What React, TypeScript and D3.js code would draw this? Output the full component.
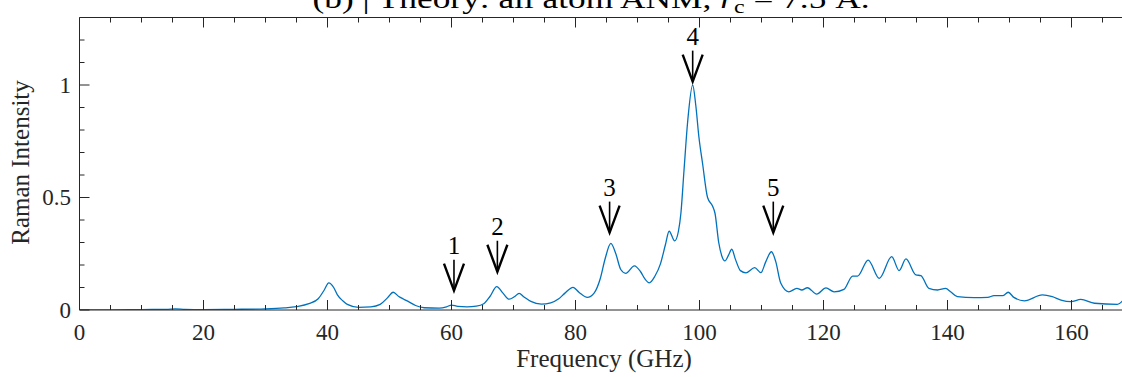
import React from "react";
import * as d3 from "d3";

const freq = [0, 5, 10, 14, 15.5, 17, 20, 25, 30, 33, 35, 37, 38.5, 39.5, 40.2, 41, 41.6, 42.5, 43.2, 45, 47, 48.5, 49.7, 50.6, 51.5, 52.3, 53.2, 54.2, 55.6, 58, 59.2, 60, 61, 62.5, 64, 65.2, 66.2, 67.3, 68.3, 69.3, 70.2, 70.9, 71.7, 72.8, 74.5, 76, 77.3, 78.3, 79.6, 80.6, 81.9, 83, 84, 84.8, 85.7, 86.5, 87.3, 88.1, 89.5, 90.5, 91.2, 91.9, 92.8, 93.7, 94.5, 95.1, 96.0, 96.6, 97.0, 97.5, 98.1, 98.9, 99.4, 99.9, 100.5, 101.3, 102.1, 102.5, 103.1, 103.6, 104.1, 104.7, 105.2, 105.8, 106.6, 107.5, 108.9, 109.9, 110.7, 111.6, 112.3, 113.1, 114.4, 115.7, 116.5, 117.4, 118.9, 120.4, 121.7, 123.3, 124.7, 125.5, 127.2, 129.0, 131.0, 132.2, 133.3, 134.9, 135.7, 137.0, 138.4, 139.7, 140.5, 141.6, 144.3, 146.5, 147.5, 148.9, 149.8, 150.7, 152.4, 155.3, 156.9, 158.3, 159.9, 161.5, 163.7, 167.4, 168.4];
const intensity = [0.001, 0.001, 0.002, 0.003, 0.005, 0.003, 0.002, 0.003, 0.005, 0.009, 0.015, 0.028, 0.05, 0.09, 0.121, 0.1, 0.067, 0.04, 0.025, 0.012, 0.014, 0.025, 0.055, 0.079, 0.06, 0.048, 0.035, 0.02, 0.01, 0.008, 0.014, 0.022, 0.016, 0.014, 0.017, 0.028, 0.06, 0.104, 0.075, 0.048, 0.06, 0.074, 0.058, 0.038, 0.026, 0.032, 0.05, 0.075, 0.101, 0.078, 0.056, 0.075, 0.14, 0.23, 0.296, 0.25, 0.18, 0.163, 0.196, 0.17, 0.138, 0.121, 0.15, 0.205, 0.29, 0.35, 0.307, 0.35, 0.43, 0.62, 0.84, 1.0, 0.91, 0.77, 0.65, 0.5, 0.462, 0.43, 0.3, 0.24, 0.218, 0.245, 0.27, 0.225, 0.175, 0.165, 0.188, 0.166, 0.215, 0.259, 0.215, 0.12, 0.081, 0.096, 0.089, 0.099, 0.071, 0.098, 0.081, 0.092, 0.151, 0.151, 0.222, 0.141, 0.237, 0.175, 0.227, 0.156, 0.153, 0.096, 0.089, 0.096, 0.081, 0.059, 0.055, 0.056, 0.064, 0.064, 0.079, 0.056, 0.041, 0.067, 0.059, 0.044, 0.037, 0.047, 0.03, 0.025, 0.046];

const arrowLabels = ["1", "2", "3", "4", "5"];
const arrowFreq = [60.4, 67.4, 85.5, 98.9, 111.9];
const arrowTip = [0.086, 0.17, 0.344, 1.015, 0.344];

const xTicksMajor = [0, 20, 40, 60, 80, 100, 120, 140, 160];
const yTicksMajor = [0, 0.5, 1];
const yTickLabels = ["0", "0.5", "1"];

const W = 1122;
const H = 377;
const left = 79.5;
const top = 17.5;
const bottom = 310;

const font = "'Liberation Serif', 'Times New Roman', serif";
const axisColor = "#262626";

export default function App() {
  const x = d3.scaleLinear().domain([0, 170]).range([left, left + 170 * 6.2]);
  const y = d3.scaleLinear().domain([0, 1.3]).range([bottom, top]);
  const right = x(170);
  const xMinor = d3.range(0, 171, 5).filter((v) => v % 20 !== 0);
  const yMinor = d3.range(0, 13).map((v) => v / 10).filter((v) => Math.abs(v * 2 - Math.round(v * 2)) > 1e-6);

  const pts: [number, number][] = freq.map((f, i) => [f, intensity[i]]);
  const line = d3
    .line<[number, number]>()
    .x((d) => x(d[0]))
    .y((d) => y(d[1]))
    .curve(d3.curveMonotoneX);

  return (
    <svg width={W} height={H} style={{ position: "absolute", left: 0, top: 0, background: "#fff" }}>
      <defs>
        <clipPath id="plotclip">
          <rect x={left} y={top - 2} width={right - left} height={bottom - top + 2} />
        </clipPath>
      </defs>
      {/* title (clipped at top) */}
      <text
        x={591}
        y={7.5}
        textAnchor="middle"
        fontFamily={font}
        fontSize={28}
        fill="#000"
        textLength={557}
        lengthAdjust="spacingAndGlyphs"
      >
        (b) | Theory: all atom ANM, <tspan fontStyle="italic">r</tspan>
        <tspan fontSize={19} dy={5}>c</tspan>
        <tspan dy={-5}> = 7.5 Å.</tspan>
      </text>

      {/* curve */}
      <path d={line(pts) || ""} fill="none" stroke="#0072BD" strokeWidth={1.3} clipPath="url(#plotclip)" />

      {/* box */}
      <g stroke={axisColor} strokeWidth={1} fill="none">
        <line x1={left} x2={right} y1={bottom} y2={bottom} />
        <line x1={left} x2={right} y1={top} y2={top} />
        <line x1={left} x2={left} y1={top} y2={bottom} />
        <line x1={right} x2={right} y1={top} y2={bottom} />
        {xTicksMajor.map((t) => (
          <g key={"xM" + t}>
            <line x1={x(t)} x2={x(t)} y1={bottom} y2={bottom - 10} />
            <line x1={x(t)} x2={x(t)} y1={top} y2={top + 10} />
          </g>
        ))}
        {xMinor.map((t) => (
          <g key={"xm" + t}>
            <line x1={x(t)} x2={x(t)} y1={bottom} y2={bottom - 5} />
            <line x1={x(t)} x2={x(t)} y1={top} y2={top + 5} />
          </g>
        ))}
        {yTicksMajor.map((t) => (
          <g key={"yM" + t}>
            <line x1={left} x2={left + 10} y1={y(t)} y2={y(t)} />
            <line x1={right} x2={right - 10} y1={y(t)} y2={y(t)} />
          </g>
        ))}
        {yMinor.map((t) => (
          <g key={"ym" + t}>
            <line x1={left} x2={left + 5} y1={y(t)} y2={y(t)} />
            <line x1={right} x2={right - 5} y1={y(t)} y2={y(t)} />
          </g>
        ))}
      </g>

      {/* tick labels */}
      <g fontFamily={font} fontSize={23} fill={axisColor}>
        {xTicksMajor.map((t) => (
          <text key={"xl" + t} x={x(t)} y={340} textAnchor="middle">
            {t}
          </text>
        ))}
        {yTicksMajor.map((t, i) => (
          <text key={"yl" + t} x={71} y={y(t) + 7.5} textAnchor="end">
            {yTickLabels[i]}
          </text>
        ))}
      </g>

      {/* axis labels */}
      <text x={604} y={367} textAnchor="middle" fontFamily={font} fontSize={25} fill={axisColor}>
        Frequency (GHz)
      </text>
      <text
        transform={`translate(29,162.5) rotate(-90)`}
        textAnchor="middle"
        fontFamily={font}
        fontSize={25}
        fill={axisColor}
      >
        Raman Intensity
      </text>

      {/* arrows */}
      {arrowLabels.map((lab, i) => {
        const tx = x(arrowFreq[i]);
        const ty = y(arrowTip[i]);
        return (
          <g key={"ar" + lab}>
            <line x1={tx} x2={tx} y1={ty - 31} y2={ty} stroke="#000" strokeWidth={1.6} />
            <path
              d={`M${tx - 10},${ty - 27} L${tx},${ty} L${tx + 10},${ty - 27}`}
              fill="none"
              stroke="#000"
              strokeWidth={2.4}
              strokeLinejoin="miter"
            />
            <text x={tx} y={ty - 37} textAnchor="middle" fontFamily={font} fontSize={25} fill="#000">
              {lab}
            </text>
          </g>
        );
      })}
    </svg>
  );
}
